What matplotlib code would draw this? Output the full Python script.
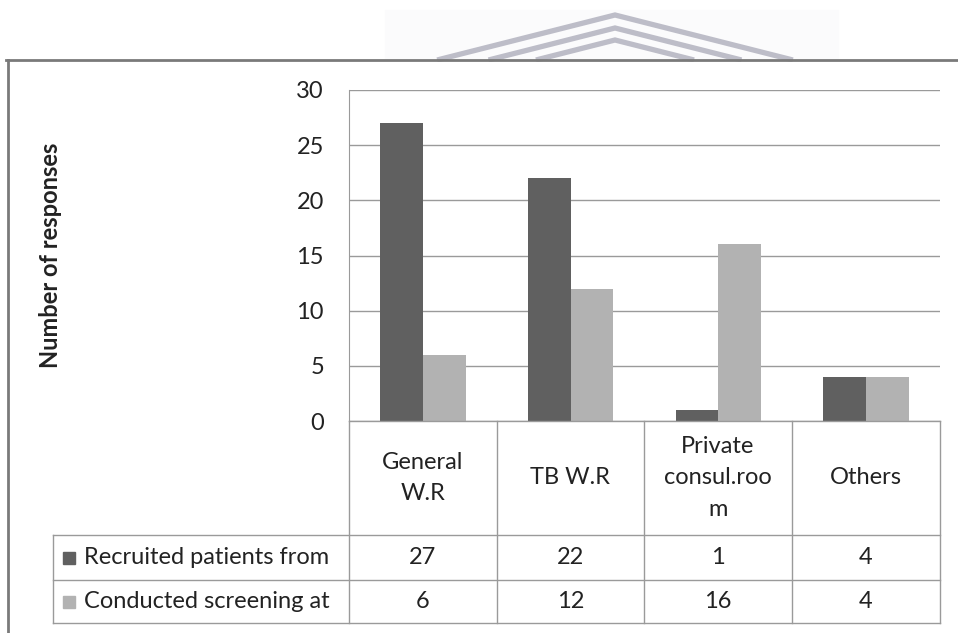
import matplotlib.pyplot as plt
from matplotlib.lines import Line2D
from matplotlib.patches import Rectangle
import numpy as np

plt.rcParams['font.family'] = ['Lato', 'DejaVu Sans']

categories = ["General\nW.R", "TB W.R", "Private\nconsul.roo\nm", "Others"]
recruited = [27, 22, 1, 4]
screening = [6, 12, 16, 4]
series_names = ["Recruited patients from", "Conducted screening at"]
series_colors = ["#606060", "#b2b2b2"]
yticks = [0, 5, 10, 15, 20, 25, 30]

W, H = 958, 633
fig = plt.figure(figsize=(W / 100, H / 100), dpi=100)


def fx(px):
    return px / W


def fy(py):
    return 1 - py / H


grey = "#9a9a9a"
txt = "#222222"
fs = 17

# faint watermark behind the top
fig.add_artist(Rectangle((fx(385), fy(60)), fx(838 - 385), fy(10) - fy(60),
                         color="#fbfbfc", transform=fig.transFigure, zorder=0))
for apex in [15, 28, 40]:
    dx = (60 - apex) / 0.253
    fig.add_artist(Line2D([fx(615 - dx), fx(615), fx(615 + dx)],
                          [fy(60), fy(apex), fy(60)],
                          color="#bdbdc8", lw=3.8, transform=fig.transFigure,
                          solid_joinstyle="miter", solid_capstyle="butt",
                          zorder=1))

# outer frame (top and left)
fig.add_artist(Line2D([fx(6), fx(958)], [fy(60), fy(60)], color="#7a7a7a",
                      lw=2, transform=fig.transFigure, zorder=2))
fig.add_artist(Rectangle((0, fy(633)), 1, fy(62) - fy(633), color="white",
                         transform=fig.transFigure, zorder=1.5))
fig.add_artist(Line2D([fx(8), fx(8)], [fy(60), fy(633)], color="#7a7a7a",
                      lw=2, transform=fig.transFigure, zorder=2))

# plot area
left, right, top, bottom = 349, 940, 90, 421
ax = fig.add_axes([fx(left), fy(bottom), fx(right - left), fy(top) - fy(bottom)])
ax.set_zorder(3)
ax.patch.set_alpha(0)
x = np.arange(len(categories))
bw = 0.29
ax.bar(x - bw / 2, recruited, bw, color=series_colors[0], zorder=3)
ax.bar(x + bw / 2, screening, bw, color=series_colors[1], zorder=3)
ax.set_xlim(-0.5, len(categories) - 0.5)
ax.set_ylim(0, 30)
ax.set_yticks(yticks)
ax.set_yticklabels([str(t) for t in yticks], fontsize=fs, color=txt)
ax.tick_params(axis="y", length=0, pad=18)
ax.set_xticks([])
ax.grid(axis="y", color=grey, lw=1, zorder=0)
for s in ["top", "right", "bottom"]:
    ax.spines[s].set_visible(False)
ax.spines["left"].set_color(grey)
ax.set_ylabel("Number of responses", fontsize=17, fontweight="bold", color=txt)
ax.yaxis.set_label_coords((62 - left) / (right - left), 0.5)

# data table below
col_edges = [349, 497, 644, 792, 940]
row_edges = [421, 535, 580, 623]
tab_left = 53


def hline(x0, x1, y):
    fig.add_artist(Line2D([fx(x0), fx(x1)], [fy(y), fy(y)], color=grey, lw=1,
                          transform=fig.transFigure, zorder=4))


def vline(xp, y0, y1):
    fig.add_artist(Line2D([fx(xp), fx(xp)], [fy(y0), fy(y1)], color=grey, lw=1,
                          transform=fig.transFigure, zorder=4))


hline(col_edges[0], col_edges[-1], row_edges[0])
for y in row_edges[1:]:
    hline(tab_left, col_edges[-1], y)
for xp in col_edges:
    vline(xp, row_edges[0], row_edges[-1])
vline(tab_left, row_edges[1], row_edges[-1])

for i, cat in enumerate(categories):
    cx = (col_edges[i] + col_edges[i + 1]) / 2
    cy = (row_edges[0] + row_edges[1]) / 2
    fig.text(fx(cx), fy(cy), cat, ha="center", va="center", fontsize=fs,
             color=txt, linespacing=1.6, zorder=4)

for r, (name, vals, col) in enumerate(zip(series_names, [recruited, screening],
                                          series_colors)):
    cy = (row_edges[r + 1] + row_edges[r + 2]) / 2
    fig.add_artist(Rectangle((fx(63), fy(cy + 6)), fx(12), fy(0) - fy(12),
                             color=col, transform=fig.transFigure, zorder=4))
    fig.text(fx(84), fy(cy), name, ha="left", va="center", fontsize=fs,
             color=txt, zorder=4)
    for i, v in enumerate(vals):
        cx = (col_edges[i] + col_edges[i + 1]) / 2
        fig.text(fx(cx), fy(cy), str(v), ha="center", va="center",
                 fontsize=fs, color=txt, zorder=4)

fig.savefig("out.png", dpi=100)
